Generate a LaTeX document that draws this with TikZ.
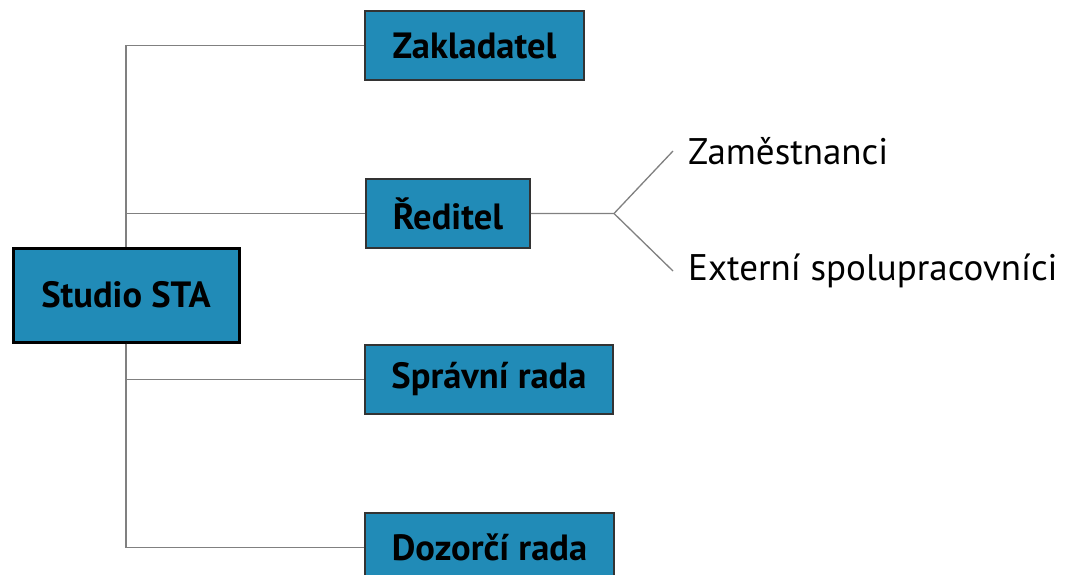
\documentclass[tikz,border=0pt]{standalone}
\usepackage{fontspec}
\setmainfont{PT Sans}
\definecolor{boxblue}{RGB}{33,139,183}
\definecolor{linegray}{RGB}{128,128,128}
\begin{document}
\begin{tikzpicture}[x=1pt,y=-1pt,
		orgbox/.style={draw=black!80,line width=1.5pt,fill=boxblue,font=\fontsize{36.5}{42}\selectfont\bfseries,minimum height=69pt,inner sep=0pt},
		rootbox/.style={orgbox,draw=black,line width=3pt,minimum height=94pt},
		leaf/.style={font=\fontsize{37}{44}\selectfont,anchor=west,inner xsep=15pt,inner ysep=0pt},
		link/.style={linegray,line width=1.3pt}]
	\clip (0,0) rectangle (1077,574);
	\fill[white] (0,0) rectangle (1077,574);
	% boxes
	\node[rootbox,minimum width=226pt] (studio) at (126,295) {Studio STA};
	\node[orgbox,minimum width=219pt] (zak) at (474.5,45.5) {Zakladatel};
	\node[orgbox,minimum width=164pt] (red) at (448,213.5) {Ředitel};
	\node[orgbox,minimum width=248pt] (sprav) at (489,379.5) {Správní rada};
	\node[orgbox,minimum width=249pt] (doz) at (489.5,547.5) {Dozorčí rada};
	% branches of the director
	\coordinate (fork) at (614,213.5);
	\node[leaf] (zam) at (673,151) {Zaměstnanci};
	\node[leaf] (ext) at (673,271) {Externí spolupracovníci};
	% trunk
	\draw[link] (studio.north) |- (zak.west);
	\draw[link] (studio.north) |- (red.west);
	\draw[link] (studio.south) |- (sprav.west);
	\draw[link] (studio.south) |- (doz.west);
	\draw[link] (red.east) -- (fork) -- (zam.west);
	\draw[link] (fork) -- (ext.west);
\end{tikzpicture}
\end{document}
